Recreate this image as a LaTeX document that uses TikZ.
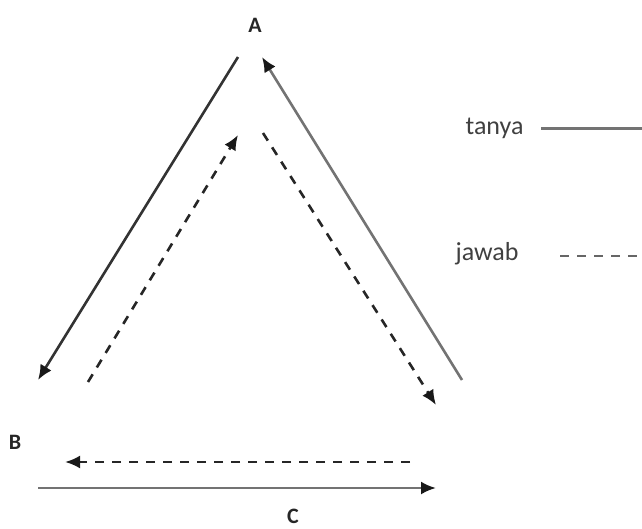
\documentclass[tikz,border=0pt]{standalone}
\usepackage{fontspec}
\setmainfont{Carlito}
\usetikzlibrary{arrows.meta,positioning}

\begin{document}
\begin{tikzpicture}[
    x=1pt, y=-1pt,
    >={Latex[length=15pt,width=13pt,color=black!90]},
    ask/.style={draw=black!55, line width=2.6pt},
    answer/.style={draw=black!85, line width=2.6pt, dash pattern=on 9pt off 8pt},
    corner/.style={font=\fontsize{22}{24}\selectfont\bfseries, text=black!85},
    legend/.style={font=\fontsize{26}{30}\selectfont, text=black!75, anchor=east}
]
\useasboundingbox (0,0) rectangle (642,528);

\node[corner] (A) at (255,25) {A};
\node[corner] (B) at (15,442) {B};
\node[corner] (C) at (293,516) {C};

% ends of the connectors
\coordinate (ab1) at (238,57);   \coordinate (ab2) at (38,380);
\coordinate (ca1) at (462,380);  \coordinate (ca2) at (262,57);
\coordinate (ba1) at (88,382);   \coordinate (ba2) at (238,135);
\coordinate (ac1) at (263,133);  \coordinate (ac2) at (436,405);
\coordinate (cb1) at (410,462);  \coordinate (cb2) at (65,462);
\coordinate (bc1) at (38,488);   \coordinate (bc2) at (436,488);

\draw[->, ask, draw=black!80] (ab1) -- (ab2);
\draw[->, ask] (ca1) -- (ca2);
\draw[->, answer] (ba1) -- (ba2);
\draw[->, answer] (ac1) -- (ac2);
\draw[->, answer] (cb1) -- (cb2);
\draw[->, ask] (bc1) -- (bc2);

% legend
\node[legend] (tanya) at (527,128) {tanya};
\coordinate (tanyaend) at (642,128);
\draw[ask, line width=3pt] ([xshift=14pt]tanya.east) -- (tanyaend);

\node[legend] (jawab) at (522,254) {jawab};
\coordinate (jawabend) at (642,256);
\draw[answer, draw=black!60] (560,256) -- (jawabend);
\end{tikzpicture}
\end{document}
